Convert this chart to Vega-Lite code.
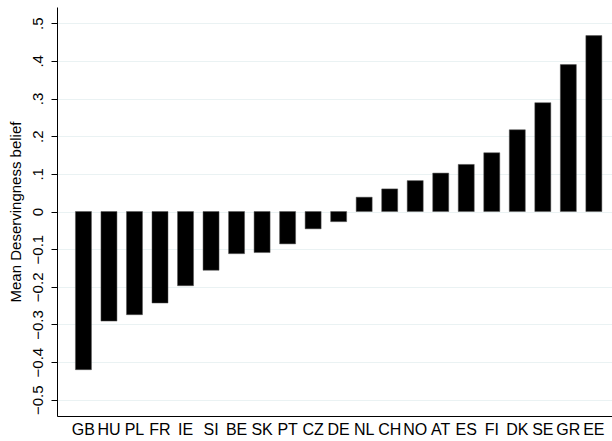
{
  "$schema": "https://vega.github.io/schema/vega-lite/v6.json",
  "autosize": "none",
  "width": 555,
  "height": 409,
  "padding": {"left": 57, "top": 7, "right": 0, "bottom": 25},
  "background": "white",
  "config": {
    "view": {"stroke": null},
    "font": "Liberation Sans"
  },
  "data": {
    "values": [
      {"country": "GB", "belief": -0.42},
      {"country": "HU", "belief": -0.291},
      {"country": "PL", "belief": -0.274},
      {"country": "FR", "belief": -0.243},
      {"country": "IE", "belief": -0.197},
      {"country": "SI", "belief": -0.156},
      {"country": "BE", "belief": -0.112},
      {"country": "SK", "belief": -0.109},
      {"country": "PT", "belief": -0.086},
      {"country": "CZ", "belief": -0.046},
      {"country": "DE", "belief": -0.027},
      {"country": "NL", "belief": 0.038},
      {"country": "CH", "belief": 0.06},
      {"country": "NO", "belief": 0.082},
      {"country": "AT", "belief": 0.102},
      {"country": "ES", "belief": 0.125},
      {"country": "FI", "belief": 0.156},
      {"country": "DK", "belief": 0.217},
      {"country": "SE", "belief": 0.289},
      {"country": "GR", "belief": 0.39},
      {"country": "EE", "belief": 0.467}
    ]
  },
  "mark": {"type": "bar", "color": "black", "stroke": "#555555", "strokeWidth": 0.5},
  "encoding": {
    "x": {
      "field": "country",
      "type": "nominal",
      "sort": null,
      "scale": {"paddingInner": 0.373, "paddingOuter": 0.56, "align": 0.645},
      "axis": {
        "title": null,
        "labelAngle": 0,
        "ticks": false,
        "labelPadding": 5,
        "labelFontSize": 16,
        "labelColor": "black",
        "labelOverlap": false,
        "labelBound": false,
        "domainColor": "black",
        "domainWidth": 1,
        "grid": false
      }
    },
    "y": {
      "field": "belief",
      "type": "quantitative",
      "scale": {"domain": [-0.543, 0.543], "nice": false, "zero": false},
      "axis": {
        "title": "Mean Deservingness belief",
        "titleFontSize": 15,
        "titleFontWeight": "normal",
        "titleColor": "black",
        "titlePadding": 7,
        "values": [-0.5, -0.4, -0.3, -0.2, -0.1, 0, 0.1, 0.2, 0.3, 0.4, 0.5],
        "labelExpr": "datum.value == 0 ? '0' : replace(format(datum.value, '.1f'), /^(-?)0\\./, '$1.')",
        "labelAngle": -90,
        "labelAlign": "center",
        "labelBaseline": "bottom",
        "labelFontSize": 15,
        "labelColor": "black",
        "labelPadding": 6,
        "tickColor": "black",
        "tickSize": 6,
        "domainColor": "black",
        "domainWidth": 1,
        "grid": true,
        "gridColor": "#eaf2f3",
        "gridWidth": 1
      }
    }
  }
}
